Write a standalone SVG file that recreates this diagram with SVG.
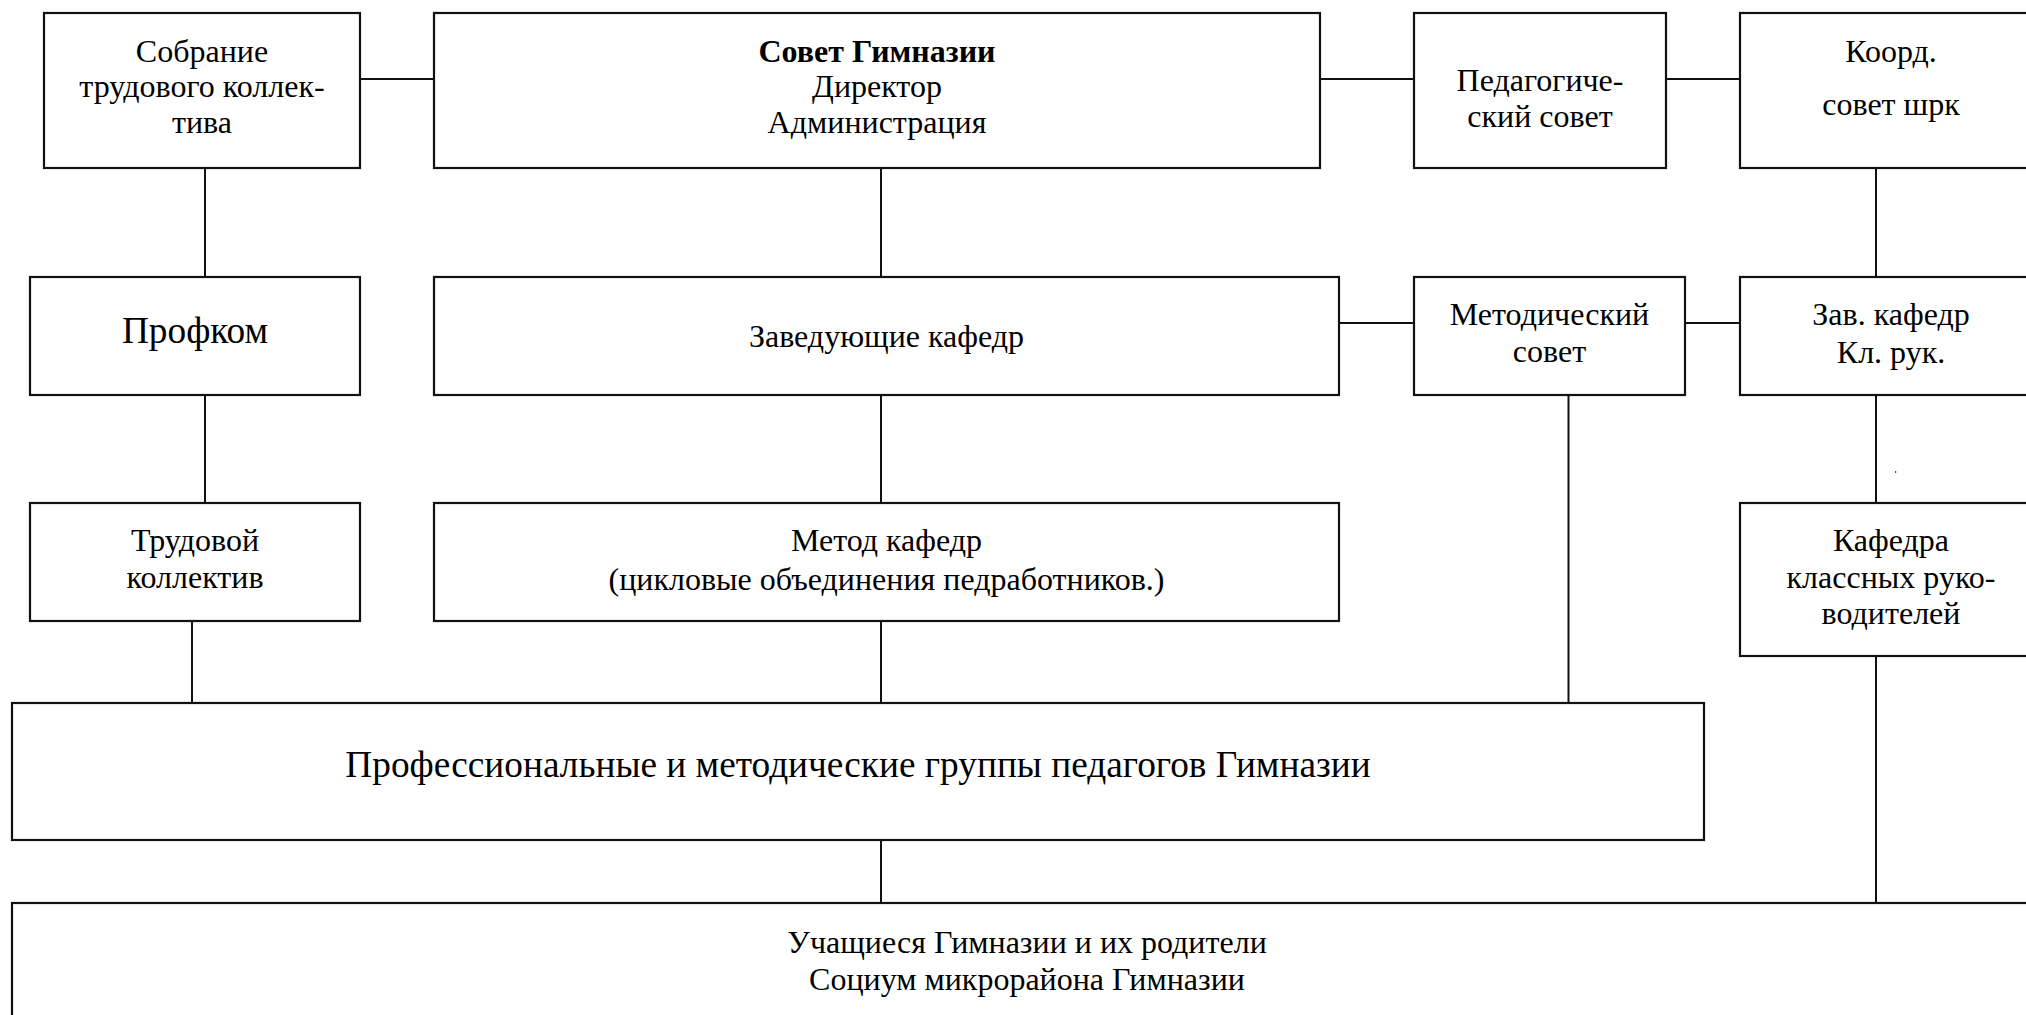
<svg xmlns="http://www.w3.org/2000/svg" width="2026" height="1015" viewBox="0 0 2026 1015">
<style>
.box{fill:#fff;stroke:#111;stroke-width:2.2}
.ln{stroke:#111;stroke-width:2;fill:none}
text{font-family:"Liberation Serif","Times New Roman",serif;fill:#000;text-anchor:middle}
.s{font-size:32px}
.b{font-weight:bold}
.l{font-size:37.3px}
.m{font-size:37.3px}
</style>
<rect width="2026" height="1015" fill="#fff"/>
<g id="connectors">
<path class="ln" d="M360 79H434M1320 79H1414M1666 79H1740M205 168V277M881 168V277M1876 168V277M1339 323H1414M1685 323H1740M205 395V503M881 395V503M1876 395V503M192 621V703M881 621V703M1568.5 395V703M881 840V903M1876 656V903"/>
</g>
<g id="sobranie"><rect class="box" x="44" y="13" width="316" height="155"/>
<text class="s" x="202" y="62">Собрание</text><text class="s" x="202" y="97">трудового коллек-</text><text class="s" x="202" y="133">тива</text></g>
<g id="sovet"><rect class="box" x="434" y="13" width="886" height="155"/>
<text class="s b" x="877" y="62">Совет Гимназии</text><text class="s" x="877" y="97">Директор</text><text class="s" x="877" y="133">Администрация</text></g>
<g id="pedsovet"><rect class="box" x="1414" y="13" width="252" height="155"/>
<text class="s" x="1540" y="91">Педагогиче-</text><text class="s" x="1540" y="127">ский совет</text></g>
<g id="koord"><rect class="box" x="1740" y="13" width="302" height="155"/>
<text class="s" x="1891" y="62">Коорд.</text><text class="s" x="1891" y="115">совет шрк</text></g>
<g id="profkom"><rect class="box" x="30" y="277" width="330" height="118"/>
<text class="l" x="195" y="343">Профком</text></g>
<g id="zaveduyushchie"><rect class="box" x="434" y="277" width="905" height="118"/>
<text class="s" x="886.5" y="347">Заведующие кафедр</text></g>
<g id="metodsovet"><rect class="box" x="1414" y="277" width="271" height="118"/>
<text class="s" x="1549.5" y="325">Методический</text><text class="s" x="1549.5" y="362">совет</text></g>
<g id="zavkaf"><rect class="box" x="1740" y="277" width="302" height="118"/>
<text class="s" x="1891" y="325">Зав. кафедр</text><text class="s" x="1891" y="363">Кл. рук.</text></g>
<g id="trudovoy"><rect class="box" x="30" y="503" width="330" height="118"/>
<text class="s" x="195" y="551">Трудовой</text><text class="s" x="195" y="588">коллектив</text></g>
<g id="metodkafedr"><rect class="box" x="434" y="503" width="905" height="118"/>
<text class="s" x="886.5" y="551">Метод кафедр</text><text class="s" x="886.5" y="590">(цикловые объединения педработников.)</text></g>
<g id="kafedra"><rect class="box" x="1740" y="503" width="302" height="153"/>
<text class="s" x="1891" y="551">Кафедра</text><text class="s" x="1891" y="588">классных руко-</text><text class="s" x="1891" y="624">водителей</text></g>
<g id="gruppy"><rect class="box" x="12" y="703" width="1692" height="137"/>
<text class="m" x="858" y="777">Профессиональные и методические группы педагогов Гимназии</text></g>
<g id="uchashchiesya"><rect class="box" x="12" y="903" width="2030" height="130"/>
<text class="s" x="1027" y="953">Учащиеся Гимназии и их родители</text><text class="s" x="1027" y="990">Социум микрорайона Гимназии</text></g>
<rect x="1895" y="471" width="1.2" height="2" fill="#555"/>
</svg>
